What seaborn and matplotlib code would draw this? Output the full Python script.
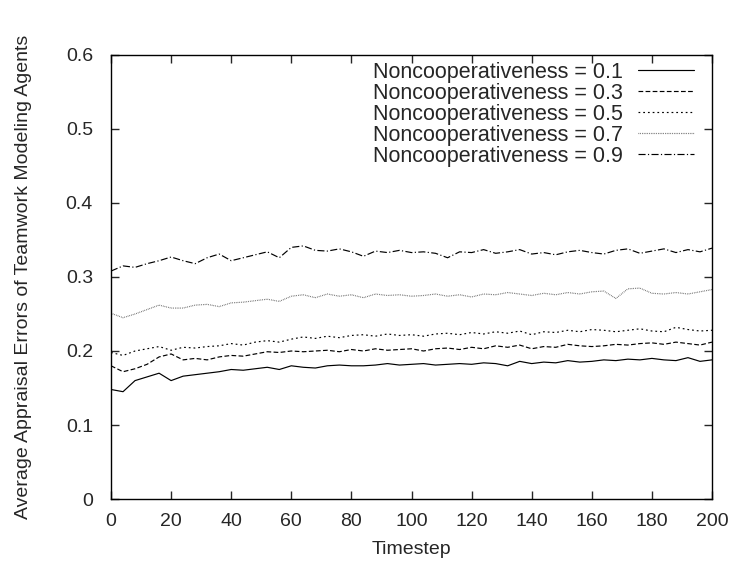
import numpy as np
import pandas as pd
import matplotlib
matplotlib.use("Agg")
import matplotlib.pyplot as plt
import seaborn as sns

# ==========================================================
# DATA (every 4 timesteps)
# ==========================================================

timesteps = list(range(0, 201, 4))

labels = [
    "Noncooperativeness = 0.1",
    "Noncooperativeness = 0.3",
    "Noncooperativeness = 0.5",
    "Noncooperativeness = 0.7",
    "Noncooperativeness = 0.9",
]

err_01 = [0.148, 0.145, 0.160, 0.165, 0.170, 0.160, 0.166, 0.168, 0.170, 0.172,
          0.175, 0.174, 0.176, 0.178, 0.175, 0.180, 0.178, 0.177, 0.180, 0.181,
          0.180, 0.180, 0.181, 0.183, 0.181, 0.182, 0.183, 0.181, 0.182, 0.183,
          0.182, 0.184, 0.183, 0.180, 0.186, 0.183, 0.185, 0.184, 0.187, 0.185,
          0.186, 0.188, 0.187, 0.189, 0.188, 0.190, 0.188, 0.187, 0.191, 0.186,
          0.188]

err_03 = [0.180, 0.172, 0.176, 0.182, 0.192, 0.196, 0.188, 0.190, 0.188, 0.192,
          0.194, 0.193, 0.196, 0.199, 0.198, 0.200, 0.199, 0.200, 0.201, 0.199,
          0.202, 0.200, 0.203, 0.201, 0.202, 0.203, 0.200, 0.203, 0.204, 0.202,
          0.205, 0.203, 0.207, 0.205, 0.208, 0.203, 0.206, 0.205, 0.209, 0.207,
          0.206, 0.207, 0.209, 0.208, 0.210, 0.211, 0.209, 0.212, 0.210, 0.208,
          0.212]

err_05 = [0.198, 0.194, 0.200, 0.203, 0.206, 0.201, 0.205, 0.204, 0.206, 0.207,
          0.210, 0.208, 0.212, 0.214, 0.212, 0.216, 0.219, 0.217, 0.220, 0.218,
          0.221, 0.222, 0.220, 0.223, 0.221, 0.222, 0.220, 0.223, 0.224, 0.222,
          0.225, 0.223, 0.226, 0.224, 0.227, 0.222, 0.226, 0.225, 0.228, 0.226,
          0.229, 0.228, 0.226, 0.228, 0.230, 0.227, 0.226, 0.232, 0.229, 0.227,
          0.228]

err_07 = [0.251, 0.245, 0.250, 0.256, 0.262, 0.258, 0.258, 0.262, 0.263, 0.260,
          0.265, 0.266, 0.268, 0.270, 0.267, 0.274, 0.276, 0.272, 0.277, 0.274,
          0.276, 0.272, 0.277, 0.275, 0.276, 0.274, 0.275, 0.277, 0.274, 0.276,
          0.273, 0.277, 0.276, 0.279, 0.277, 0.275, 0.278, 0.276, 0.279, 0.277,
          0.280, 0.281, 0.271, 0.284, 0.285, 0.278, 0.277, 0.279, 0.277, 0.280,
          0.283]

err_09 = [0.308, 0.315, 0.313, 0.318, 0.322, 0.327, 0.322, 0.318, 0.326, 0.331,
          0.322, 0.326, 0.330, 0.334, 0.326, 0.340, 0.342, 0.336, 0.335, 0.338,
          0.334, 0.328, 0.335, 0.333, 0.336, 0.333, 0.334, 0.332, 0.326, 0.334,
          0.333, 0.337, 0.332, 0.334, 0.337, 0.331, 0.333, 0.330, 0.334, 0.336,
          0.333, 0.331, 0.336, 0.338, 0.332, 0.335, 0.338, 0.333, 0.337, 0.334,
          0.339]

series = [err_01, err_03, err_05, err_07, err_09]

# ==========================================================
# STYLE
# ==========================================================

sns.set_style("white")
plt.rcParams["font.family"] = ["Liberation Sans", "DejaVu Sans"]

dash_styles = [
    (None, None),
    (4, 2),
    (1.5, 2.5),
    (0.6, 0.9),
    (6, 2, 1, 2),
]
line_colors = ["black", "black", "black", "#555555", "black"]

fig = plt.figure(figsize=(7.43, 5.65), dpi=100)
ax = fig.add_axes([0.1494, 0.1168, 0.8089, 0.7859])

# ==========================================================
# PLOT
# ==========================================================

for label, values, dash, col in zip(labels, series, dash_styles, line_colors):
    df = pd.DataFrame({"Timestep": timesteps, "Error": values})
    sns.lineplot(data=df, x="Timestep", y="Error", ax=ax,
                 color=col, linewidth=0.85, label=label)
    line = ax.get_lines()[-1]
    if dash[0] is not None:
        line.set_dashes(dash)

ax.set_xlim(0, 200)
ax.set_ylim(0, 0.6)
ax.set_xticks(range(0, 201, 20))
ax.set_yticks([0, 0.1, 0.2, 0.3, 0.4, 0.5, 0.6])
ax.set_yticklabels(["0", "0.1", "0.2", "0.3", "0.4", "0.5", "0.6"])

ax.set_xlabel("Timestep", fontsize=14, labelpad=8)
ax.set_ylabel("Average Appraisal Errors of Teamwork Modeling Agents",
              fontsize=14, labelpad=24)

ax.tick_params(direction="in", length=6, width=1, labelsize=14,
               top=True, right=True, bottom=True, left=True)
ax.tick_params(axis="y", pad=13)
ax.tick_params(axis="x", pad=10)
for side in ax.spines.values():
    side.set_visible(True)
    side.set_color("black")
    side.set_linewidth(1.0)

ax.legend(loc="upper right", frameon=False, markerfirst=False,
          fontsize=15.5, handlelength=2.6, handletextpad=0.7,
          labelspacing=0.0, borderpad=0.0, borderaxespad=0.0,
          bbox_to_anchor=(0.97, 0.985))

fig.savefig("out.png", dpi=100)
plt.close()
